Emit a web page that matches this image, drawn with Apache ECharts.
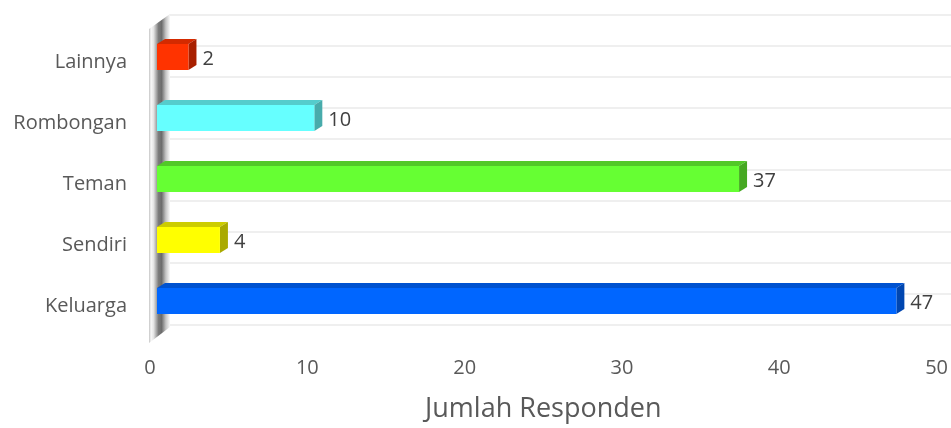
<!DOCTYPE html>
<html>
<head>
<meta charset="utf-8">
<script src="https://cdn.jsdelivr.net/npm/echarts@6/dist/echarts.min.js"></script>
<style>
html,body{margin:0;padding:0;background:#fff;}
#main{width:951px;height:428px;}
</style>
</head>
<body>
<div id="main"></div>
<script>
const categories = ['Keluarga', 'Sendiri', 'Teman', 'Rombongan', 'Lainnya'];
const values = [47, 4, 37, 10, 2];
const frontColors = ['#0066FF', '#FFFF00', '#66FF33', '#66FFFF', '#FF3300'];
const topColors = ['#0052D0', '#CCCC00', '#52C828', '#55CCCC', '#D42A00'];
const sideColors = ['#0046B0', '#AAAA00', '#46A822', '#48ABAB', '#A82000'];
const xTicks = [0, 10, 20, 30, 40, 50];
const axisName = 'Jumlah Responden';

const FONT = '"Open Sans", sans-serif';
const chart = echarts.init(document.getElementById('main'), null, {renderer: 'canvas'});

function renderBar(params, api) {
  const idx = api.value(0);
  const val = api.value(1);
  const p0 = api.coord([0, idx]);
  const p1 = api.coord([val, idx]);
  const yc = p0[1];
  const off = 7, dx = 8, dy = -5, h = 26;
  const x0 = p0[0] + off, x1 = p1[0] + off;
  const top = yc - 18.5, bottom = top + h;
  return {
    type: 'group',
    children: [
      {type: 'polygon', shape: {points: [[x0, top], [x0 + dx, top + dy], [x1 + dx, top + dy], [x1, top]]},
        style: {fill: topColors[idx]}},
      {type: 'polygon', shape: {points: [[x1, top], [x1 + dx, top + dy], [x1 + dx, bottom + dy], [x1, bottom]]},
        style: {fill: sideColors[idx]}},
      {type: 'rect', shape: {x: x0, y: top, width: x1 - x0, height: h},
        style: {fill: frontColors[idx]}},
      {type: 'text', x: x1 + dx + 6, y: yc - 3,
        style: {text: String(val), fill: '#404040', font: '20px ' + FONT, verticalAlign: 'middle', align: 'left'}}
    ]
  };
}

const option = {
  backgroundColor: '#ffffff',
  animation: false,
  graphic: [
    {
      type: 'polygon', z: 1,
      shape: {points: [[149, 29], [170, 14], [170, 327], [149, 343]]},
      style: {
        fill: new echarts.graphic.LinearGradient(0, 0, 1, 0, [
          {offset: 0, color: '#C4C4C4'},
          {offset: 0.1, color: '#F8F8F8'},
          {offset: 0.22, color: '#E4E4E4'},
          {offset: 0.45, color: '#7C7C7C'},
          {offset: 0.6, color: '#6C6C6C'},
          {offset: 0.8, color: '#C4C4C4'},
          {offset: 1, color: '#FAFAFA'}
        ])
      }
    }
  ],
  grid: [
    {left: 150, right: 14, top: 32, height: 312},
    {left: 169, right: 0, top: 15, height: 310}
  ],
  xAxis: [
    {
      type: 'value', gridIndex: 0, min: 0, max: 50, interval: 10,
      axisLine: {show: false}, axisTick: {show: false}, splitLine: {show: false},
      axisLabel: {color: '#595959', fontSize: 20, fontFamily: FONT, margin: 21},
      name: axisName, nameLocation: 'middle', nameGap: 59,
      nameTextStyle: {color: '#595959', fontSize: 27, fontFamily: FONT}
    },
    {type: 'value', gridIndex: 1, min: 0, max: 1, show: false}
  ],
  yAxis: [
    {
      type: 'category', gridIndex: 0, data: categories,
      axisLine: {show: false}, axisTick: {show: false}, splitLine: {show: false},
      axisLabel: {color: '#595959', fontSize: 20, fontFamily: FONT, margin: 23}
    },
    {
      type: 'value', gridIndex: 1, min: 0, max: 10, interval: 1,
      axisLine: {show: false}, axisTick: {show: false}, axisLabel: {show: false},
      splitLine: {show: true, lineStyle: {color: '#EAEAEA', width: 1.5}}
    }
  ],
  series: [
    {
      type: 'custom', xAxisIndex: 0, yAxisIndex: 0, z: 5,
      renderItem: renderBar,
      data: categories.map((c, i) => [i, values[i]]),
      encode: {x: 1, y: 0}
    }
  ]
};
chart.setOption(option);
</script>
</body>
</html>
